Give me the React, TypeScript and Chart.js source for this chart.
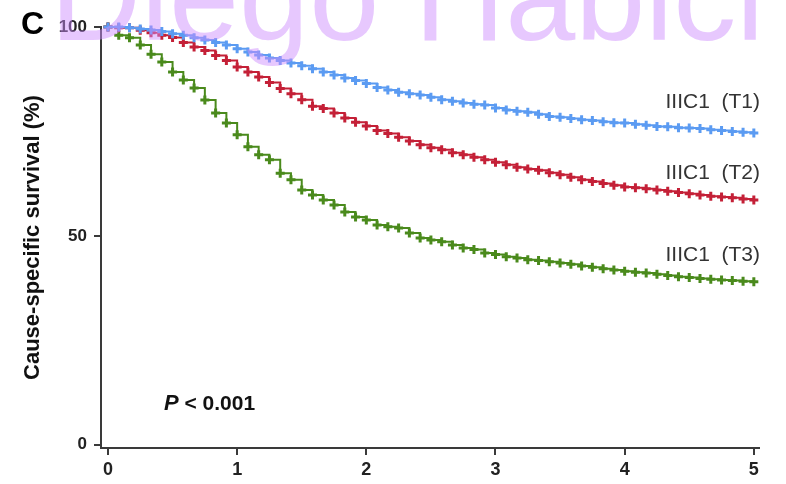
import React, { useEffect, useRef } from "react";
import { Chart, registerables } from "chart.js";

Chart.register(...registerables);

// time in months (converted to years for the axis)
const months = [
  0, 1, 2, 3, 4, 5, 6, 7, 8, 9, 10, 11, 12, 13, 14, 15, 16, 17, 18, 19, 20,
  21, 22, 23, 24, 25, 26, 27, 28, 29, 30, 31, 32, 33, 34, 35, 36, 37, 38, 39,
  40, 41, 42, 43, 44, 45, 46, 47, 48, 49, 50, 51, 52, 53, 54, 55, 56, 57, 58,
  59, 60,
];

const survT1 = [
  100, 100, 99.8, 99.5, 99.3, 98.9, 98.4, 98, 97.4, 96.9, 96.3, 95.7, 94.8,
  94, 93.3, 92.6, 92, 91.4, 90.7, 90, 89.2, 88.5, 87.8, 87.2, 86.5, 85.5, 84.9,
  84.4, 84, 83.7, 83.2, 82.6, 82.2, 81.8, 81.5, 81.3, 80.6, 80.1, 79.8, 79.6,
  79.1, 78.6, 78.4, 78.1, 77.8, 77.6, 77.3, 77.1, 77, 76.7, 76.5, 76.2, 76.1,
  75.9, 75.8, 75.7, 75.4, 75.2, 75, 74.8, 74.6,
];

const survT2 = [
  100, 99.8, 99.8, 99.2, 98.6, 98, 97.5, 96.3, 95.2, 94.4, 93.2, 92, 90.4,
  89.2, 88, 86.7, 85.3, 84, 82.6, 81, 80.5, 79.4, 78.2, 77.2, 76.3, 75.2, 74.5,
  73.6, 72.7, 71.8, 71.1, 70.6, 69.9, 69.4, 68.8, 68.2, 67.6, 67, 66.4, 66,
  65.7, 65.1, 64.6, 64, 63.4, 63, 62.5, 62.1, 61.7, 61.5, 61.3, 61, 60.7, 60.4,
  60.1, 59.8, 59.5, 59.3, 59.1, 58.8, 58.6,
];

const survT3 = [
  100, 98, 97.4, 95.7, 93.5, 91.6, 89.2, 87.3, 85.4, 82.5, 79.4, 77, 74.2,
  71.3, 69.4, 68.2, 65, 63.4, 61, 59.8, 58.6, 57.4, 55.7, 54.5, 53.8, 52.6,
  52.2, 51.9, 50.7, 49.5, 49, 48.6, 47.8, 47.1, 46.7, 45.9, 45.5, 45, 44.7,
  44.3, 44.1, 43.8, 43.5, 43.2, 42.8, 42.5, 42.1, 41.8, 41.5, 41.3, 41.1, 40.8,
  40.5, 40.2, 40, 39.8, 39.6, 39.4, 39.3, 39.1, 39,
];

const seriesLabels = ["IIIC1  (T1)", "IIIC1  (T2)", "IIIC1  (T3)"];
const seriesColors = ["#5b9bf2", "#c42037", "#4a8a1c"];
const xTickValues = [0, 1, 2, 3, 4, 5];
const yTickValues = [0, 50, 100];
const yTitle = "Cause-specific survival (%)";
const pText = "P";
const pRest = " < 0.001";
const panelLetter = "C";
const watermark = "Diego Habici";

const FONT = "'Liberation Sans', Arial, Helvetica, sans-serif";

const toPoints = (vals: number[]) =>
  months.map((m, i) => ({ x: m / 12, y: vals[i] }));

const annotations = {
  id: "annotations",
  afterDraw(chart: any) {
    const ctx = chart.ctx;
    ctx.save();
    // series labels
    ctx.fillStyle = "#333";
    ctx.font = `21px ${FONT}`;
    ctx.textAlign = "right";
    ctx.textBaseline = "middle";
    const labelY = [102, 173, 255];
    seriesLabels.forEach((t, i) => ctx.fillText(t, 760, labelY[i]));
    // p value
    ctx.textAlign = "left";
    ctx.fillStyle = "#111";
    ctx.font = `italic bold 22px ${FONT}`;
    ctx.fillText(pText, 164, 404);
    const w = ctx.measureText(pText).width;
    ctx.font = `bold 21px ${FONT}`;
    ctx.fillText(pRest, 164 + w, 404);
    // panel letter
    ctx.font = `bold 32px ${FONT}`;
    ctx.fillStyle = "#000";
    ctx.fillText(panelLetter, 21, 25);
    // watermark
    ctx.font = `126px ${FONT}`;
    ctx.fillStyle = "rgba(205,140,252,0.48)";
    ctx.textBaseline = "alphabetic";
    ctx.fillText(watermark, 50, 40);
    ctx.restore();
  },
};

export default function App() {
  const ref = useRef<HTMLCanvasElement>(null);
  useEffect(() => {
    if (!ref.current) return;
    const datasets = [survT1, survT2, survT3].map((vals, i) => ({
      label: seriesLabels[i],
      data: toPoints(vals),
      borderColor: seriesColors[i],
      backgroundColor: seriesColors[i],
      pointBorderColor: seriesColors[i],
      borderWidth: 2,
      stepped: true,
      pointStyle: "cross",
      pointRadius: 4.5,
      pointBorderWidth: 3,
      fill: false,
      clip: false,
    }));
    const chart = new Chart(ref.current, {
      type: "line",
      data: { datasets },
      options: {
        animation: false,
        responsive: false,
        layout: { padding: { left: 0, right: 27, top: 27, bottom: 0 } },
        plugins: { legend: { display: false }, tooltip: { enabled: false } },
        scales: {
          x: {
            type: "linear",
            min: -0.054,
            max: 5.04,
            afterBuildTicks: (s: any) => {
              s.ticks = xTickValues.map((v) => ({ value: v }));
            },
            afterFit: (s: any) => {
              s.height = 36;
            },
            grid: {
              drawOnChartArea: false,
              drawTicks: true,
              tickLength: 7,
              color: "#3a3a3a",
              lineWidth: 2,
            },
            border: { display: true, color: "#3a3a3a", width: 2 },
            ticks: {
              color: "#222",
              font: { family: FONT, size: 18, weight: "bold" },
              padding: 4,
              maxRotation: 0,
            },
          },
          y: {
            type: "linear",
            min: -0.8,
            max: 100,
            afterBuildTicks: (s: any) => {
              s.ticks = yTickValues.map((v) => ({ value: v }));
            },
            afterFit: (s: any) => {
              s.width = 101;
            },
            grid: {
              drawOnChartArea: false,
              drawTicks: true,
              tickLength: 7,
              color: "#3a3a3a",
              lineWidth: 2,
            },
            border: { display: true, color: "#3a3a3a", width: 2 },
            ticks: {
              color: "#222",
              font: { family: FONT, size: 17, weight: "bold" },
              padding: 7,
            },
            title: {
              display: true,
              text: yTitle,
              color: "#111",
              font: { family: FONT, size: 22, weight: "bold" },
              padding: { top: 20, bottom: 0 },
            },
          },
        },
      },
      plugins: [annotations],
    });
    return () => chart.destroy();
  }, []);
  return (
    <div style={{ position: "fixed", left: 0, top: 0, width: 786, height: 484, background: "#fff" }}>
      <canvas ref={ref} width={786} height={484} />
    </div>
  );
}
